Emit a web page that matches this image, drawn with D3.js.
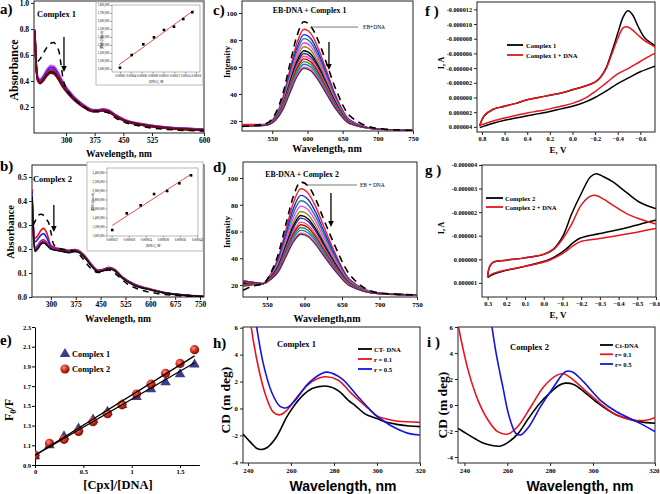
<!DOCTYPE html>
<html>
<head>
<meta charset="utf-8">
<script src="https://cdn.jsdelivr.net/npm/d3@7"></script>
<style>
body { margin: 0; background: #fff; }
svg text { font-family: "Liberation Serif", "Times New Roman", serif; font-weight: bold; fill: #000; }
</style>
</head>
<body>
<div id="chart"></div>
<script>
// ---------- a) UV-vis, complex 1 ----------
const absA_wl = [218, 222, 226, 232, 240, 250, 260, 268, 278, 290, 300, 315, 330, 350, 370, 385, 395, 410, 430, 455, 490, 530, 600];
const absA_rows = [
  [.80, .52, .43, .415, .44, .49, .52, .515, .475, .405, .355, .30, .255, .21, .18, .18, .185, .178, .14, .102, .075, .055, .03],
  [.797, .517, .426, .41, .434, .483, .511, .506, .467, .398, .35, .296, .251, .207, .178, .178, .183, .176, .138, .10, .074, .054, .029],
  [.794, .514, .421, .405, .428, .475, .502, .497, .459, .392, .345, .291, .248, .204, .176, .176, .181, .174, .136, .098, .072, .052, .027],
  [.79, .51, .415, .398, .42, .465, .49, .485, .448, .383, .338, .285, .243, .20, .173, .173, .178, .171, .133, .096, .07, .05, .025],
  [.786, .506, .409, .391, .412, .455, .478, .473, .437, .374, .331, .279, .238, .196, .17, .17, .175, .168, .13, .094, .068, .048, .023],
  [.783, .503, .405, .385, .406, .448, .469, .464, .428, .367, .325, .275, .234, .193, .167, .167, .172, .165, .127, .092, .067, .047, .022],
  [.78, .50, .40, .38, .40, .44, .46, .455, .42, .36, .32, .27, .23, .19, .165, .165, .17, .163, .125, .09, .065, .045, .02]
];
const absA_colors = ["#ff66cc", "#cc33cc", "#2d2dff", "#6a2c9a", "#cc1010", "#111111", "#7a0a1a"];
const absA_dash_wl = [226, 232, 240, 250, 260, 268, 276, 282, 287, 292, 298, 310, 330, 350, 370, 395, 410, 430, 455, 490, 530, 600];
const absA_dash = [.55, .57, .61, .66, .69, .695, .66, .62, .52, .42, .36, .30, .24, .195, .165, .165, .155, .115, .08, .055, .035, .015];
const absA_xticks = [300, 375, 450, 525, 600];
const absA_yticks = [0.2, 0.4, 0.6, 0.8, 1.0];

// inset a
const insA_x = [2.0e-5, 4.16e-5, 6.29e-5, 8.26e-5, 10.1e-5, 11.95e-5, 13.66e-5, 15.32e-5];
const insA_y = [1.016e6, 1.175e6, 1.309e6, 1.396e6, 1.488e6, 1.529e6, 1.625e6, 1.709e6];
const insA_xticks = [2e-5, 4e-5, 6e-5, 8e-5, 10e-5, 12e-5, 14e-5, 16e-5];
const insA_yticks = [1.0e6, 1.1e6, 1.2e6, 1.3e6, 1.4e6, 1.5e6, 1.6e6, 1.7e6, 1.8e6];

// ---------- b) UV-vis, complex 2 ----------
const absB_wl = [243, 247, 252, 260, 270, 278, 288, 300, 315, 335, 355, 372, 385, 405, 425, 442, 460, 475, 492, 515, 550, 600, 650, 700, 760];
const absB_rows = [
  [0.45, 0.30, 0.245, 0.255, 0.278, 0.286, 0.265, 0.215, 0.205, 0.20, 0.195, 0.198, 0.193, 0.168, 0.132, 0.112, 0.117, 0.124, 0.116, 0.085, 0.055, 0.033, 0.017, 0.009, 0.003],
  [0.44, 0.29, 0.23, 0.24, 0.258, 0.264, 0.245, 0.21, 0.20, 0.196, 0.19, 0.195, 0.19, 0.165, 0.13, 0.11, 0.115, 0.122, 0.114, 0.083, 0.053, 0.032, 0.016, 0.008, 0.002],
  [0.43, 0.28, 0.205, 0.215, 0.235, 0.238, 0.227, 0.205, 0.198, 0.193, 0.188, 0.193, 0.188, 0.163, 0.128, 0.108, 0.113, 0.121, 0.113, 0.082, 0.052, 0.031, 0.016, 0.008, 0.002],
  [0.425, 0.275, 0.2, 0.21, 0.23, 0.234, 0.223, 0.203, 0.197, 0.192, 0.187, 0.192, 0.187, 0.162, 0.127, 0.107, 0.112, 0.12, 0.112, 0.081, 0.051, 0.031, 0.015, 0.008, 0.002],
  [0.422, 0.272, 0.195, 0.205, 0.225, 0.23, 0.219, 0.202, 0.196, 0.191, 0.186, 0.191, 0.186, 0.161, 0.126, 0.106, 0.111, 0.119, 0.111, 0.08, 0.05, 0.03, 0.015, 0.008, 0.002],
  [0.42, 0.27, 0.19, 0.20, 0.22, 0.225, 0.215, 0.20, 0.195, 0.19, 0.185, 0.19, 0.185, 0.16, 0.125, 0.105, 0.11, 0.118, 0.11, 0.08, 0.05, 0.03, 0.015, 0.008, 0.002]
];
const absB_colors = ["#ee1111", "#1a1aee", "#7a2fa8", "#c040c0", "#8a0c1c", "#111111"];
const absB_dash_wl = [247, 254, 262, 270, 278, 286, 293, 300, 308, 320, 340, 372, 390, 420, 442, 475, 500, 530, 570, 620, 680, 760];
const absB_dash = [0.30, 0.32, 0.34, 0.345, 0.34, 0.325, 0.31, 0.27, 0.22, 0.205, 0.198, 0.19, 0.17, 0.12, 0.102, 0.113, 0.09, 0.055, 0.03, 0.015, 0.006, 0.0];
const absB_xticks = [300, 375, 450, 525, 600, 675, 750];
const absB_yticks = [0, 0.1, 0.2, 0.3, 0.4, 0.5];

// inset b
const insB_x = [12.2e-6, 17.3e-6, 22.2e-6, 26.9e-6, 31.5e-6, 35.8e-6, 39.9e-6];
const insB_y = [1.126e6, 1.494e6, 1.671e6, 1.92e6, 1.987e6, 2.157e6, 2.333e6];
const insB_xticks = [12e-6, 18e-6, 24e-6, 30e-6, 36e-6, 42e-6];
const insB_yticks = [1.0e6, 1.2e6, 1.4e6, 1.6e6, 1.8e6, 2.0e6, 2.2e6, 2.4e6];

// ---------- c) EB-DNA + complex 1 emission ----------
const flC_wl = [507, 540, 555, 565, 575, 585, 595, 605, 615, 625, 640, 660, 700, 750];
const flC_rows = [
  [17.5, 17.5, 24.3, 37.1, 57.6, 77.7, 88, 84.7, 74.3, 60.3, 39.0, 20.9, 14, 13],
  [16, 17.4, 23.8, 35.9, 55.3, 74.3, 84, 80.9, 71.0, 57.8, 37.6, 20.5, 14, 13],
  [16, 17.3, 23.5, 35.0, 53.6, 71.7, 81, 78.0, 68.5, 55.9, 36.6, 20.2, 14, 13],
  [16, 17.3, 23.1, 34.1, 51.8, 69.1, 78, 75.1, 66.1, 54.0, 35.6, 19.9, 14, 13],
  [16, 17.2, 22.8, 33.2, 50.1, 66.5, 75, 72.3, 63.6, 52.1, 34.6, 19.6, 14, 13],
  [16, 17.2, 22.4, 32.3, 48.4, 64.0, 72, 69.4, 61.2, 50.2, 33.6, 19.3, 14, 13],
  [16, 17.1, 22.2, 31.7, 47.2, 62.2, 70, 67.5, 59.5, 49.0, 32.9, 19.1, 14, 13],
  [16, 17.1, 21.9, 31.1, 46.0, 60.5, 68, 65.6, 57.9, 47.7, 32.2, 18.9, 14, 13],
  [16, 17.0, 21.7, 30.5, 44.9, 58.8, 66, 63.7, 56.2, 46.4, 31.5, 18.7, 14, 13],
  [16, 17.0, 21.4, 29.9, 43.7, 57.1, 64, 61.8, 54.6, 45.2, 30.8, 18.5, 14, 13],
  [16, 17.0, 21.2, 29.3, 42.6, 55.4, 62, 59.9, 53.0, 43.9, 30.2, 18.3, 14, 13],
  [16, 16.9, 21.0, 28.7, 41.4, 53.6, 60, 58.0, 51.3, 42.7, 29.5, 18.1, 14, 13],
  [16, 16.9, 20.8, 28.4, 40.8, 52.8, 59, 57.0, 50.5, 42.0, 29.1, 18.0, 14, 13]
];
const flC_dash = [16, 18, 26, 40, 62, 83, 93.5, 90, 80, 66, 44, 24, 14.5, 13];

// ---------- d) EB-DNA + complex 2 emission ----------
const flD_wl = [518, 530, 545, 555, 565, 575, 585, 595, 605, 615, 625, 640, 660, 700, 750];
const flD_rows = [
  [19, 20, 21, 28.2, 40.1, 60.7, 81.2, 92, 88.5, 78.4, 64.8, 44.8, 24.3, 13.8, 12.5],
  [20, 20.5, 21, 27.6, 38.6, 57.8, 76.9, 87, 83.8, 74.3, 61.5, 42.8, 23.6, 13.7, 12.5],
  [20, 20.5, 21, 27.2, 37.4, 55.4, 73.5, 83, 79.9, 70.9, 58.9, 41.2, 23.0, 13.7, 12.5],
  [21, 21, 21, 26.7, 36.2, 53.1, 70.0, 79, 76.1, 67.6, 56.2, 39.6, 22.5, 13.6, 12.5],
  [21, 21, 21, 26.2, 35, 50.8, 66.6, 75, 72.3, 64.3, 53.6, 38, 21.9, 13.6, 12.5],
  [21, 21, 21, 25.8, 34.1, 49.1, 64.0, 72, 69.4, 61.8, 51.6, 36.8, 21.5, 13.6, 12.5],
  [22, 21.5, 21, 25.6, 33.5, 47.9, 62.3, 70, 67.5, 60.2, 50.3, 36, 21.2, 13.6, 12.5],
  [22, 21.5, 21, 25.2, 32.6, 46.2, 59.7, 67, 64.7, 57.7, 48.3, 34.8, 20.8, 13.5, 12.5],
  [22, 21.5, 21, 25, 32, 45, 58, 65, 62.8, 56, 47, 34, 20.5, 13.5, 12.5],
  [23, 22, 21, 24.8, 31.4, 43.8, 56.3, 63, 60.8, 54.3, 45.7, 33.2, 20.2, 13.5, 12.5],
  [23, 22, 21, 24.5, 30.8, 42.7, 54.6, 61, 58.9, 52.7, 44.4, 32.4, 19.9, 13.5, 12.5],
  [23, 22, 21, 24.3, 30.2, 41.5, 52.8, 59, 57, 51, 43, 31.6, 19.7, 13.4, 12.5],
  [23, 22, 21, 24.2, 29.9, 40.9, 52, 58, 56.1, 50.2, 42.4, 31.2, 19.5, 13.4, 12.5]
];
const flD_dash = [16, 19, 21, 29, 43, 65, 86, 97, 94, 84, 70, 50, 28, 14, 12.5];
const fl_colors = ["#ff1a1a", "#1f1fff", "#13877a", "#ff3dff", "#8f8f1f", "#000000", "#1f2a9a", "#ff4f8f", "#cc0000", "#1e9a3c", "#3366ff", "#d2843a", "#6a1f6a"];
const fl_xticks = [550, 600, 650, 700, 750];
const fl_yticks = [20, 40, 60, 80, 100];

// ---------- e) Stern-Volmer ----------
const sv_ratio = [0, 0.15, 0.3, 0.45, 0.6, 0.75, 0.9, 1.05, 1.2, 1.35, 1.5, 1.65];
const sv_c1 = [1.0, 1.11, 1.20, 1.28, 1.37, 1.45, 1.52, 1.60, 1.68, 1.75, 1.83, 1.93];
const sv_c2 = [1.0, 1.12, 1.16, 1.24, 1.34, 1.42, 1.51, 1.62, 1.72, 1.83, 1.93, 2.07];
const sv_xticks = [0, 0.5, 1, 1.5];
const sv_yticks = [0.9, 1.1, 1.3, 1.5, 1.7, 1.9, 2.1, 2.3];

// ---------- f) CV complex 1 (current in µA) ----------
const cvF_fwdE = [0.82, 0.78, 0.7, 0.6, 0.5, 0.4, 0.3, 0.2, 0.1, 0.0, -0.1, -0.2, -0.25, -0.3, -0.35, -0.4, -0.45, -0.49, -0.53, -0.58, -0.64, -0.75];
const cvF_c1_fwd = [3.9, 2.5, 1.6, 1.2, 0.8, 0.3, 0.0, -0.3, -0.6, -1.05, -1.5, -2.1, -2.8, -4.1, -6.3, -8.7, -11.0, -11.8, -11.3, -9.7, -8.1, -6.6];
const cvF_dna_fwd = [3.8, 2.5, 1.6, 1.2, 0.8, 0.3, 0.0, -0.3, -0.6, -1.05, -1.5, -2.1, -2.8, -4.0, -6.0, -8.0, -9.5, -9.6, -9.2, -8.5, -7.7, -6.6];
const cvF_revE = [-0.75, -0.7, -0.6, -0.5, -0.4, -0.3, -0.2, -0.1, 0.0, 0.1, 0.2, 0.3, 0.4, 0.5, 0.6, 0.7, 0.78, 0.82];
const cvF_c1_rev = [-4.5, -4.1, -3.5, -2.7, -1.9, -0.9, 0.0, 0.7, 1.2, 1.55, 1.9, 2.2, 2.5, 2.8, 3.1, 3.5, 3.9, 4.1];
const cvF_dna_rev = [-6.2, -5.8, -4.9, -4.0, -3.2, -2.0, -0.8, 0.2, 0.8, 1.2, 1.55, 1.85, 2.1, 2.45, 2.8, 3.2, 3.6, 3.8];
const cvF_xticks = [0.8, 0.6, 0.4, 0.2, 0.0, -0.2, -0.4, -0.6];
const cvF_yticks = [-12, -10, -8, -6, -4, -2, 0, 2, 4];

// ---------- g) CV complex 2 (current in µA) ----------
const cvG_fwdE = [0.3, 0.29, 0.27, 0.2, 0.1, 0.0, -0.05, -0.1, -0.15, -0.2, -0.25, -0.28, -0.32, -0.37, -0.44, -0.51, -0.59, -0.63];
const cvG_c2_fwd = [0.75, 0.33, 0.12, 0.04, -0.06, -0.21, -0.42, -0.95, -1.94, -2.78, -3.5, -3.63, -3.5, -3.28, -2.85, -2.43, -2.17, -2.08];
const cvG_dna_fwd = [0.75, 0.33, 0.12, 0.04, -0.06, -0.21, -0.40, -0.85, -1.5, -2.3, -2.68, -2.71, -2.55, -2.29, -1.95, -1.72, -1.52, -1.45];
const cvG_revE = [-0.63, -0.59, -0.46, -0.3, -0.19, -0.1, -0.03, 0.1, 0.2, 0.27, 0.3];
const cvG_c2_rev = [-1.7, -1.65, -1.37, -1.09, -0.88, -0.31, 0.01, 0.3, 0.47, 0.64, 0.78];
const cvG_dna_rev = [-1.35, -1.3, -1.09, -0.88, -0.73, -0.24, 0.04, 0.3, 0.45, 0.6, 0.75];
const cvG_xticks = [0.3, 0.2, 0.1, 0.0, -0.1, -0.2, -0.3, -0.4, -0.5, -0.6];
const cvG_yticks = [-4, -3, -2, -1, 0, 1];

// ---------- h) CD complex 1 ----------
const cdH_ct_wl = [237.7, 240, 242, 244, 246.4, 249, 252.6, 255, 258, 261, 263.4, 266, 269.6, 273, 275.8, 278, 280.5, 283, 286.7, 290, 294.4, 300, 305, 310, 315, 320];
const cdH_ct = [-1.9, -2.3, -2.65, -2.95, -3.05, -2.9, -2.27, -1.6, -0.65, 0.1, 0.6, 1.05, 1.47, 1.62, 1.67, 1.62, 1.47, 1.2, 0.6, 0.2, -0.4, -0.75, -1.05, -1.2, -1.3, -1.35];
const cdH_r1_wl = [240, 241.7, 244.8, 248, 251.8, 254.9, 258, 263.4, 269.6, 275.8, 282, 288.2, 296, 300, 305, 310, 320];
const cdH_r1 = [8, 5.84, 3.1, 1.1, -0.27, -0.47, -0.15, 0.97, 1.97, 2.35, 2.1, 1.1, 0.0, -0.55, -0.8, -0.95, -1.03];
const cdH_r5_wl = [242, 244, 247.1, 251, 254.9, 258, 261.9, 268, 274.3, 277, 283.6, 291.3, 299, 302, 306.8, 314.6, 320];
const cdH_r5 = [8.5, 6.1, 3.35, 1.22, 0.15, 0.05, 0.6, 1.85, 2.6, 2.7, 2.22, 0.85, -0.45, -0.8, -1.3, -1.85, -1.97];

// ---------- i) CD complex 2 ----------
const cdI_ct_wl = [237, 241, 245, 249, 253, 257, 261, 265, 270, 275, 280, 284, 287, 291, 296, 301, 307.6, 315, 320];
const cdI_ct = [-1.8, -2.2, -2.6, -2.95, -3.12, -3.15, -2.8, -2.2, -1.0, 0.1, 0.95, 1.5, 1.68, 1.58, 1.0, 0.25, -0.77, -1.28, -1.4];
const cdI_r1_wl = [237, 241.7, 246.3, 251, 255.5, 260.2, 264.8, 271, 277, 283.2, 286.3, 290.9, 297, 302.3, 307.6, 313, 317.5, 320];
const cdI_r1 = [6.2, 2.7, 0.38, -1.15, -2.05, -2.23, -1.67, -0.13, 1.41, 2.3, 2.4, 1.92, 1.03, 0.13, -0.77, -1.15, -1.15, -0.95];
const cdI_r5_wl = [252, 254.8, 257.9, 260.9, 264, 266.3, 270.1, 275.5, 281.7, 287.1, 290.2, 295.5, 302.3, 307.6, 315.2, 320];
const cdI_r5 = [7, 3.97, 1.41, -0.9, -2.18, -2.3, -1.67, -0.13, 1.41, 2.56, 2.56, 1.8, 0.38, -0.52, -1.41, -2.05];
const cd_xticks = [240, 260, 280, 300, 320];
const cd_yticks = [-4, -2, 0, 2, 4, 6];

// ---------- drawing ----------
const svg = d3.select("#chart").append("svg").attr("width", 660).attr("height", 494);
const defs = svg.append("defs");
let clipN = 0;

function setup(o) {
  const xr = o.x.range(), yr = o.y.range();
  const L = Math.min(...xr), R = Math.max(...xr), T = Math.min(...yr), B = Math.max(...yr);
  const col = o.color || "#000";
  const g = svg.append("g");
  const gx = g.append("g").attr("transform", `translate(0,${B})`)
    .call(d3.axisBottom(o.x).tickValues(o.xt).tickFormat(o.xf || (d => d))
      .tickSize(o.ts ?? 3).tickSizeOuter(0).tickPadding(o.tp ?? 2));
  const gy = g.append("g").attr("transform", `translate(${L},0)`)
    .call(d3.axisLeft(o.y).tickValues(o.yt).tickFormat(o.yf || (d => d))
      .tickSize(o.ts ?? 3).tickSizeOuter(0).tickPadding(o.tp ?? 2));
  [gx, gy].forEach(a => a.attr("font-size", o.fs).attr("font-family", null));
  if (o.lastEnd) gx.selectAll(".tick:last-of-type text").attr("text-anchor", "end").attr("x", 4);
  if (o.normal) g.selectAll("text").style("font-weight", "normal");
  g.selectAll(".tick line").attr("stroke", col);
  if (o.box !== false) {
    g.selectAll(".domain").remove();
    g.append("rect").attr("x", L).attr("y", T).attr("width", R - L).attr("height", B - T)
      .attr("fill", "none").attr("stroke", col).attr("stroke-width", o.sw || 1);
  } else {
    g.selectAll(".domain").attr("stroke", col).attr("stroke-width", o.sw || 1);
  }
  const id = "clip" + (clipN++);
  defs.append("clipPath").attr("id", id).append("rect")
    .attr("x", L).attr("y", T).attr("width", R - L).attr("height", B - T);
  return svg.append("g").attr("clip-path", `url(#${id})`);
}

function curve(g, x, y, xs, ys, color, w, dash, c) {
  g.append("path").datum(xs.map((d, i) => [d, ys[i]]))
    .attr("d", d3.line().x(d => x(d[0])).y(d => y(d[1])).curve(c || d3.curveMonotoneX))
    .attr("fill", "none").attr("stroke", color).attr("stroke-width", w)
    .attr("stroke-linejoin", "round").attr("stroke-dasharray", dash || null);
}

function label(x, y, t, fs, o = {}) {
  const s = svg.append("text").attr("x", x).attr("y", y).attr("font-size", fs).text(t);
  if (o.anchor) s.attr("text-anchor", o.anchor);
  if (o.rot) s.attr("transform", `rotate(-90,${x},${y})`);
  if (o.sans) s.style("font-family", '"Liberation Sans", Arial, sans-serif');
  if (o.normal) s.style("font-weight", "normal");
  return s;
}

function arrow(x1, y1, x2, y2) {
  svg.append("line").attr("x1", x1).attr("y1", y1).attr("x2", x2).attr("y2", y2 - 4)
    .attr("stroke", "#000").attr("stroke-width", 1.3);
  svg.append("path").attr("d", `M${x2 - 2.8},${y2 - 6} L${x2 + 2.8},${y2 - 6} L${x2},${y2} Z`).attr("fill", "#000");
}

function legendLine(x1, x2, y, color, w) {
  svg.append("line").attr("x1", x1).attr("x2", x2).attr("y1", y).attr("y2", y)
    .attr("stroke", color).attr("stroke-width", w);
}

function fitLine(xs, ys) {
  const mx = d3.mean(xs), my = d3.mean(ys);
  const b = d3.sum(xs, (d, i) => (d - mx) * (ys[i] - my)) / d3.sum(xs, d => (d - mx) ** 2);
  return [b, my - b * mx];
}

// panel letters
[["a)", 0, 14], ["b)", 0, 171], ["e)", 0, 345], ["c)", 213, 15], ["d)", 213, 172],
 ["h)", 213, 348], ["f )", 425, 16], ["g )", 425, 175], ["i )", 427, 347]]
  .forEach(p => label(p[1], p[2], p[0], 15));

// ---- a ----
{
  const x = d3.scaleLinear().domain([216, 525, 600]).range([34, 152, 204]);
  const y = d3.scaleLinear().domain([0, 1.015]).range([133, 1]);
  const g = setup({ x, y, xt: absA_xticks, yt: absA_yticks, yf: d3.format(".1f"), fs: 7.5, color: "#222" });
  absA_rows.forEach((r, i) => curve(g, x, y, absA_wl, r, absA_colors[i], 1.8));
  curve(g, x, y, absA_dash_wl, absA_dash, "#000", 1.5, "6,5");
  arrow(x(294.5), y(0.738), x(294.5), y(0.469));
  label(x(224), y(0.89), "Complex 1", 8.5);
  label(18, 70, "Absorbance", 12, { rot: true, anchor: "middle" });
  label(119, 157, "Wavelength, nm", 9.5, { anchor: "middle" });

  // inset
  svg.append("rect").attr("x", 96).attr("y", 2).attr("width", 107).attr("height", 83)
    .attr("fill", "#fff").attr("stroke", "#aaa").attr("stroke-width", 0.8);
  const ix = d3.scaleLinear().domain([0.0000053, 0.0001674]).range([112, 200]);
  const iy = d3.scaleLinear().domain([0.9625e6, 1.8e6]).range([72, 5]);
  const ig = setup({ x: ix, y: iy, xt: insA_xticks, yt: insA_yticks, xf: d => d.toFixed(5),
    yf: d3.format(",.0f"), fs: 3, ts: 1.5, tp: 1, color: "#888", sw: 0.6, normal: true });
  const [b, a0] = fitLine(insA_x, insA_y);
  ig.append("line").attr("x1", ix(1.8e-5)).attr("x2", ix(15.6e-5))
    .attr("y1", iy(a0 + b * 1.8e-5)).attr("y2", iy(a0 + b * 15.6e-5))
    .attr("stroke", "#e02020").attr("stroke-width", 0.8);
  ig.selectAll("rect.pt").data(insA_x).join("rect").attr("class", "pt")
    .attr("x", (d) => ix(d) - 1.3).attr("y", (d, i) => iy(insA_y[i]) - 1.3)
    .attr("width", 2.6).attr("height", 2.6).attr("fill", "#000");
  label(103, 40, "[DNA]/(εa-εf)", 3.2, { rot: true, anchor: "middle", normal: true });
  label(156, 82.5, "[DNA], M", 3.4, { anchor: "middle", normal: true });
}

// ---- b ----
{
  const x = d3.scaleLinear().domain([243, 762]).range([32, 204]);
  const y = d3.scaleLinear().domain([0, 0.55]).range([297, 165]);
  const g = setup({ x, y, xt: absB_xticks, yt: absB_yticks, yf: d3.format(".1f"), fs: 7.5, color: "#222" });
  absB_rows.forEach((r, i) => curve(g, x, y, absB_wl, r, absB_colors[i], 1.6));
  curve(g, x, y, absB_dash_wl, absB_dash, "#000", 1.5, "6,5");
  arrow(x(309), y(0.383), x(309), y(0.271));
  label(x(246), y(0.48), "Complex 2", 8.5);
  label(14, 232, "Absorbance", 10.5, { rot: true, anchor: "middle" });
  label(118, 322, "Wavelength, nm", 9.5, { anchor: "middle" });

  svg.append("rect").attr("x", 87).attr("y", 162).attr("width", 116).attr("height", 89)
    .attr("fill", "#fff").attr("stroke", "#aaa").attr("stroke-width", 0.8);
  const ix = d3.scaleLinear().domain([10.35e-6, 42.35e-6]).range([107, 198]);
  const iy = d3.scaleLinear().domain([0.993e6, 2.495e6]).range([236, 168]);
  const ig = setup({ x: ix, y: iy, xt: insB_xticks, yt: insB_yticks, xf: d => d.toFixed(6),
    yf: d3.format(",.0f"), fs: 3, ts: 1.5, tp: 1, color: "#888", sw: 0.6, normal: true });
  const [b, a0] = fitLine(insB_x, insB_y);
  ig.append("line").attr("x1", ix(12.2e-6)).attr("x2", ix(39.9e-6))
    .attr("y1", iy(a0 + b * 12.2e-6)).attr("y2", iy(a0 + b * 39.9e-6))
    .attr("stroke", "#e02020").attr("stroke-width", 0.8);
  ig.selectAll("rect.pt").data(insB_x).join("rect").attr("class", "pt")
    .attr("x", (d) => ix(d) - 1.3).attr("y", (d, i) => iy(insB_y[i]) - 1.3)
    .attr("width", 2.6).attr("height", 2.6).attr("fill", "#000");
  label(94, 202, "[DNA]/(εa-εf)", 3.2, { rot: true, anchor: "middle", normal: true });
  label(153, 247, "[DNA], M", 3.4, { anchor: "middle", normal: true });
}

// ---- c ----
{
  const x = d3.scaleLinear().domain([507, 750]).range([242, 413]);
  const y = d3.scaleLinear().domain([12.6, 108.9]).range([131, 1]);
  const g = setup({ x, y, xt: fl_xticks, yt: fl_yticks, fs: 7, color: "#222" });
  flC_rows.forEach((r, i) => curve(g, x, y, flC_wl, r, fl_colors[i], 1.4));
  curve(g, x, y, flC_wl, flC_dash, "#000", 1.6, "7,5");
  arrow(x(630.6), y(78.5), x(630.6), y(57.8));
  legendLine(x(605), x(672), y(89.6), "#555", 0.8);
  label(x(679), y(88.5), "EB+DNA", 5.5, { normal: true });
  label(x(603), y(100), "EB-DNA + Complex 1", 7.8, { anchor: "middle" });
  label(229.5, 62, "Intensity", 8.5, { rot: true, anchor: "middle" });
  label(327, 152, "Wavelength, nm", 10, { anchor: "middle" });
}

// ---- d ----
{
  const x = d3.scaleLinear().domain([518, 750]).range([243, 417]);
  const y = d3.scaleLinear().domain([11, 112]).range([297, 162]);
  const g = setup({ x, y, xt: fl_xticks, yt: fl_yticks, fs: 7, color: "#222" });
  flD_rows.forEach((r, i) => curve(g, x, y, flD_wl, r, fl_colors[i], 1.4));
  curve(g, x, y, flD_wl, flD_dash, "#000", 1.6, "7,5");
  arrow(x(635.3), y(88.8), x(635.3), y(63.4));
  legendLine(x(603.3), x(670), y(94.8), "#555", 0.8);
  label(x(674), y(93.5), "EB + DNA", 5.5, { normal: true });
  label(x(596.7), y(100.8), "EB-DNA + Complex 2", 7.8, { anchor: "middle" });
  label(229.5, 232, "Intensity", 8.5, { rot: true, anchor: "middle" });
  label(327, 322, "Wavelength,nm", 10, { anchor: "middle" });
}

// ---- e ----
{
  const x = d3.scaleLinear().domain([0, 1.7]).range([35, 199.4]);
  const y = d3.scaleLinear().domain([0.9, 2.3]).range([465, 327]);
  const g = setup({ x, y, xt: sv_xticks, yt: sv_yticks, yf: d3.format(".1f"), fs: 6.5, tp: 1, box: false });
  const grad = defs.append("radialGradient").attr("id", "ball").attr("cx", "38%").attr("cy", "35%").attr("r", "65%");
  grad.append("stop").attr("offset", "0%").attr("stop-color", "#f59080");
  grad.append("stop").attr("offset", "55%").attr("stop-color", "#d22a1a");
  grad.append("stop").attr("offset", "100%").attr("stop-color", "#7a1008");
  const tri = d3.symbol(d3.symbolTriangle).size(48);
  g.selectAll("path.tri").data(sv_ratio).join("path").attr("class", "tri")
    .attr("d", tri).attr("transform", (d, i) => `translate(${x(d)},${y(sv_c1[i]) + 1})`)
    .attr("fill", "#3b3d8f");
  g.selectAll("circle.ball").data(sv_ratio).join("circle").attr("class", "ball")
    .attr("cx", d => x(d)).attr("cy", (d, i) => y(sv_c2[i])).attr("r", 4.6)
    .attr("fill", "url(#ball)");
  [sv_c1, sv_c2].forEach(ys => {
    const k = d3.sum(sv_ratio, (d, i) => d * (ys[i] - 1)) / d3.sum(sv_ratio, d => d * d);
    g.append("line").attr("x1", x(0)).attr("y1", y(1)).attr("x2", x(1.65)).attr("y2", y(1 + k * 1.65))
      .attr("stroke", "#000").attr("stroke-width", 1.3);
  });
  svg.append("path").attr("d", tri).attr("transform", "translate(65,354)").attr("fill", "#3b3d8f");
  svg.append("circle").attr("cx", 65).attr("cy", 369).attr("r", 4.6).attr("fill", "url(#ball)");
  label(72, 356.5, "Complex 1", 8.3);
  label(72, 372, "Complex 2", 8.3);
  const t = svg.append("text").attr("transform", "translate(13,410) rotate(-90)")
    .attr("text-anchor", "middle").attr("font-size", 12);
  t.append("tspan").text("F");
  t.append("tspan").attr("font-size", 8).attr("dy", 3).text("0");
  t.append("tspan").attr("dy", -3).text("/F");
  label(118, 489, "[Cpx]/[DNA]", 12.5, { anchor: "middle" });
}

// ---- f ----
{
  const x = d3.scaleLinear().domain([0.844, -0.73]).range([477, 655]);
  const y = d3.scaleLinear().domain([-13, 4.7]).range([2, 132]);
  const g = setup({ x, y, xt: cvF_xticks, yt: cvF_yticks, xf: d3.format(".1f"),
    yf: d => (d * 1e-6).toFixed(6), fs: 6.2, color: "#222" });
  curve(g, x, y, cvF_fwdE.concat(cvF_revE), cvF_c1_fwd.concat(cvF_c1_rev), "#000", 1.5, null, d3.curveCatmullRom);
  curve(g, x, y, cvF_fwdE.concat(cvF_revE), cvF_dna_fwd.concat(cvF_dna_rev), "#e8141c", 1.5, null, d3.curveCatmullRom);
  legendLine(507, 523, 45, "#000", 1.8);
  legendLine(507, 523, 55, "#e8141c", 1.8);
  label(526, 47.5, "Complex 1", 6.6);
  label(526, 57.5, "Complex 1 + DNA", 6.6);
  label(444, 63, "I, A", 8, { rot: true, anchor: "middle" });
  label(558, 153, "E, V", 9, { anchor: "middle" });
}

// ---- g ----
{
  const x = d3.scaleLinear().domain([0.33, -0.6]).range([482, 656]);
  const y = d3.scaleLinear().domain([-4, 1.6]).range([165, 297]);
  const g = setup({ x, y, xt: cvG_xticks, yt: cvG_yticks, xf: d3.format(".1f"),
    yf: d => (d * 1e-6).toFixed(6), fs: 6.2, color: "#222", lastEnd: true });
  curve(g, x, y, cvG_fwdE.concat(cvG_revE), cvG_c2_fwd.concat(cvG_c2_rev), "#000", 1.5, null, d3.curveCatmullRom);
  curve(g, x, y, cvG_fwdE.concat(cvG_revE), cvG_dna_fwd.concat(cvG_dna_rev), "#e8141c", 1.5, null, d3.curveCatmullRom);
  legendLine(486, 503, 198, "#000", 1.8);
  legendLine(486, 503, 207, "#e8141c", 1.8);
  label(505, 200.5, "Complex 2", 6.6);
  label(505, 209.5, "Complex 2 + DNA", 6.6);
  label(444, 228, "I, A", 8, { rot: true, anchor: "middle" });
  label(558, 318, "E, V", 9, { anchor: "middle" });
}

// ---- h ----
{
  const x = d3.scaleLinear().domain([237.7, 320]).range([243, 420]);
  const y = d3.scaleLinear().domain([-4.05, 6.05]).range([463, 327]);
  const g = setup({ x, y, xt: cd_xticks, yt: cd_yticks, fs: 6.8, color: "#222" });
  curve(g, x, y, cdH_ct_wl, cdH_ct, "#000", 1.6, null, d3.curveCatmullRom);
  curve(g, x, y, cdH_r1_wl, cdH_r1, "#e8141c", 1.6, null, d3.curveCatmullRom);
  curve(g, x, y, cdH_r5_wl, cdH_r5, "#1414e0", 1.6, null, d3.curveCatmullRom);
  legendLine(358, 372, 349, "#000", 1.8);
  legendLine(358, 372, 359, "#e8141c", 1.8);
  legendLine(358, 372, 369, "#1414e0", 1.8);
  label(374, 351.5, "CT- DNA", 6.6);
  label(374, 361.5, "r = 0.1", 6.6);
  label(374, 371.5, "r = 0.5", 6.6);
  label(277, 347, "Complex 1", 8.5);
  label(230, 400, "CD (m deg)", 13.5, { rot: true, anchor: "middle" });
  label(343, 491, "Wavelength, nm", 14, { anchor: "middle", sans: true });
}

// ---- i ----
{
  const x = d3.scaleLinear().domain([237, 300, 320]).range([458, 593, 655]);
  const y = d3.scaleLinear().domain([-4.46, 6]).range([463, 327]);
  const g = setup({ x, y, xt: cd_xticks, yt: cd_yticks, fs: 6.8, color: "#222", lastEnd: true });
  curve(g, x, y, cdI_ct_wl, cdI_ct, "#000", 1.6, null, d3.curveCatmullRom);
  curve(g, x, y, cdI_r1_wl, cdI_r1, "#e8141c", 1.6, null, d3.curveCatmullRom);
  curve(g, x, y, cdI_r5_wl, cdI_r5, "#1414e0", 1.6, null, d3.curveCatmullRom);
  legendLine(600, 613, 345, "#000", 1.8);
  legendLine(600, 613, 354.3, "#e8141c", 1.8);
  legendLine(600, 613, 364, "#1414e0", 1.8);
  label(615, 347.5, "Ct-DNA", 6.6);
  label(615, 357, "r= 0.1", 6.6);
  label(615, 366.5, "r= 0.5", 6.6);
  label(510, 350, "Complex 2", 8.5);
  label(447, 405, "CD (m deg)", 13.5, { rot: true, anchor: "middle" });
  label(580, 491, "Wavelength, nm", 14, { anchor: "middle", sans: true });
}
</script>
</body>
</html>
